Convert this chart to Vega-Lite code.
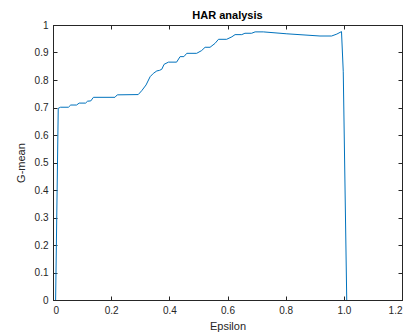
{
  "$schema": "https://vega.github.io/schema/vega-lite/v6.json",
  "width": 349,
  "height": 275,
  "autosize": {"type": "none"},
  "padding": {"left": 53, "top": 25, "right": 4, "bottom": 33},
  "background": "white",
  "title": {"text": "HAR analysis", "fontSize": 11, "fontWeight": "bold", "font": "Liberation Sans", "color": "black", "offset": -1, "anchor": "middle"},
  "config": {
    "view": {"stroke": "#262626", "strokeWidth": 1},
    "axis": {"domainColor": "#262626", "tickColor": "#262626", "labelColor": "#262626", "titleColor": "#262626", "labelFont": "Liberation Sans", "titleFont": "Liberation Sans", "labelFontSize": 10, "titleFontSize": 11, "titleFontWeight": "normal", "grid": false, "tickSize": -4, "labelPadding": 9}
  },
  "data": {"values": [
    {"eps": 0.009, "g": 0},
    {"eps": 0.018, "g": 0.697},
    {"eps": 0.026, "g": 0.701},
    {"eps": 0.053, "g": 0.701},
    {"eps": 0.061, "g": 0.709},
    {"eps": 0.081, "g": 0.709},
    {"eps": 0.090, "g": 0.716},
    {"eps": 0.112, "g": 0.716},
    {"eps": 0.119, "g": 0.723},
    {"eps": 0.130, "g": 0.724},
    {"eps": 0.139, "g": 0.737},
    {"eps": 0.213, "g": 0.737},
    {"eps": 0.221, "g": 0.746},
    {"eps": 0.293, "g": 0.747},
    {"eps": 0.305, "g": 0.761},
    {"eps": 0.320, "g": 0.782},
    {"eps": 0.334, "g": 0.812},
    {"eps": 0.345, "g": 0.824},
    {"eps": 0.357, "g": 0.833},
    {"eps": 0.366, "g": 0.835},
    {"eps": 0.374, "g": 0.839},
    {"eps": 0.382, "g": 0.857},
    {"eps": 0.397, "g": 0.865},
    {"eps": 0.425, "g": 0.865},
    {"eps": 0.437, "g": 0.885},
    {"eps": 0.450, "g": 0.885},
    {"eps": 0.460, "g": 0.897},
    {"eps": 0.494, "g": 0.897},
    {"eps": 0.511, "g": 0.907},
    {"eps": 0.523, "g": 0.919},
    {"eps": 0.540, "g": 0.919},
    {"eps": 0.557, "g": 0.933},
    {"eps": 0.569, "g": 0.948},
    {"eps": 0.597, "g": 0.948},
    {"eps": 0.615, "g": 0.957},
    {"eps": 0.626, "g": 0.965},
    {"eps": 0.649, "g": 0.965},
    {"eps": 0.660, "g": 0.970},
    {"eps": 0.683, "g": 0.970},
    {"eps": 0.695, "g": 0.975},
    {"eps": 0.723, "g": 0.975},
    {"eps": 0.804, "g": 0.968},
    {"eps": 0.918, "g": 0.960},
    {"eps": 0.958, "g": 0.960},
    {"eps": 0.976, "g": 0.967},
    {"eps": 0.992, "g": 0.976},
    {"eps": 0.998, "g": 0.83},
    {"eps": 1.01, "g": 0}
  ]},
  "layer": [
    {
      "mark": {"type": "line", "color": "#0072BD", "strokeWidth": 1, "clip": true},
      "encoding": {
        "x": {"field": "eps", "type": "quantitative", "scale": {"domain": [0, 1.2], "nice": false, "zero": false},
              "axis": {"orient": "bottom", "title": "Epsilon", "values": [0, 0.2, 0.4, 0.6, 0.8, 1.0, 1.2], "labelExpr": "datum.value == 0 ? '0' : format(datum.value, '.1f')", "titlePadding": 5}},
        "y": {"field": "g", "type": "quantitative", "scale": {"domain": [0, 1], "nice": false},
              "axis": {"orient": "left", "title": "G-mean", "values": [0, 0.1, 0.2, 0.3, 0.4, 0.5, 0.6, 0.7, 0.8, 0.9, 1], "labelExpr": "datum.value == 0 ? '0' : datum.value == 1 ? '1' : format(datum.value, '.1f')", "titlePadding": 8}}
      }
    },
    {
      "mark": {"type": "line", "strokeOpacity": 0},
      "encoding": {
        "x": {"field": "eps", "type": "quantitative", "scale": {"domain": [0, 1.2], "nice": false, "zero": false},
              "axis": {"orient": "top", "title": null, "labels": false, "values": [0, 0.2, 0.4, 0.6, 0.8, 1.0, 1.2]}},
        "y": {"field": "g", "type": "quantitative", "scale": {"domain": [0, 1], "nice": false},
              "axis": {"orient": "right", "title": null, "labels": false, "values": [0, 0.1, 0.2, 0.3, 0.4, 0.5, 0.6, 0.7, 0.8, 0.9, 1]}}
      }
    }
  ],
  "resolve": {"scale": {"x": "independent", "y": "independent"}}
}
